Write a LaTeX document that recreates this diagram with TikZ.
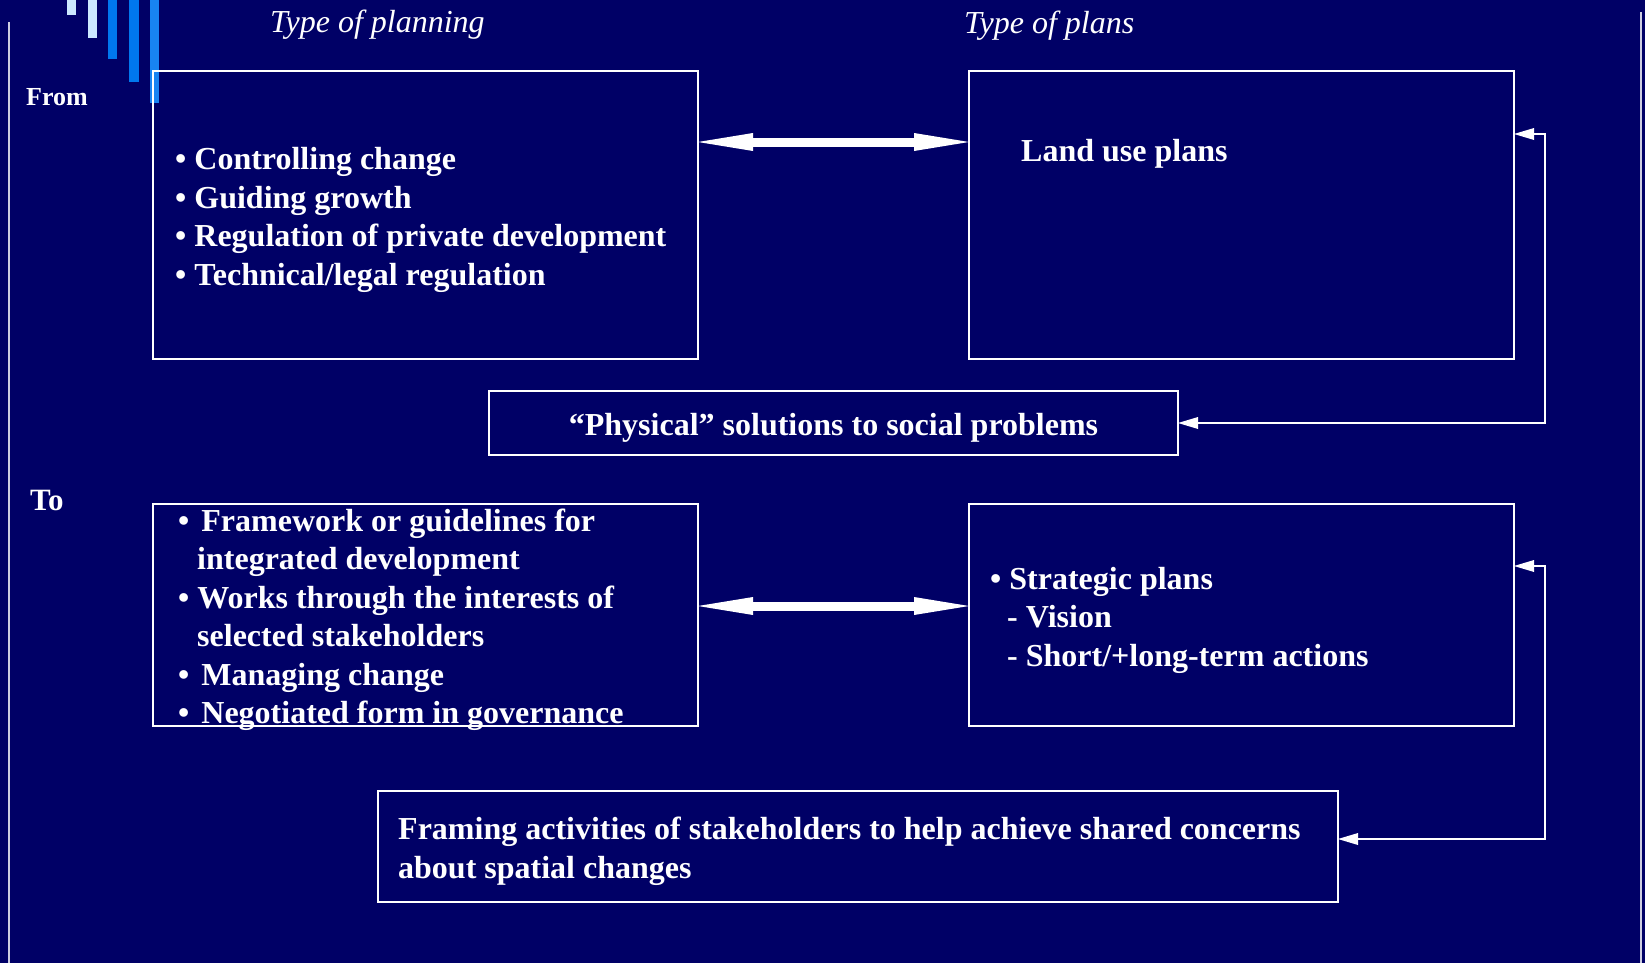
\documentclass[tikz,border=0pt]{standalone}
\usepackage{fontspec}
\setmainfont{Liberation Serif}
\usetikzlibrary{positioning,arrows.meta}
\definecolor{navy}{RGB}{0,0,102}
\definecolor{barlight}{RGB}{204,232,255}
\definecolor{barblue}{RGB}{0,119,238}
\definecolor{barsky}{RGB}{24,132,242}
\definecolor{rulegray}{RGB}{205,205,225}
\tikzset{
  box/.style={draw=white, line width=1.5pt, outer sep=0pt, inner sep=0pt},
  txt/.style={text=white, inner sep=0pt, yshift=-5pt, align=flush left, font=\bfseries\fontsize{32}{38.5}\selectfont},
  head/.style={text=white, inner sep=0pt, anchor=base west, font=\itshape\fontsize{32}{38}\selectfont},
  side/.style={text=white, inner sep=0pt, anchor=base west},
  twoway/.style={white, line width=9pt,
    {Triangle[length=55pt,width=18pt,line width=0pt]}-{Triangle[length=55pt,width=18pt,line width=0pt]}},
  back/.style={white, line width=1.5pt,
    {Triangle[length=20pt,width=12pt,line width=0pt]}-{Triangle[length=20pt,width=12pt,line width=0pt]}}
}

\begin{document}
\begin{tikzpicture}[x=1pt,y=-1pt,node distance=271pt]
        \fill[navy] (0,0) rectangle (1645,963);
        \useasboundingbox (0,0) rectangle (1645,963);
        \fill[barlight] (67,0) rectangle (76,15);
        \fill[barlight] (88,0) rectangle (97,38);
        \fill[barblue] (108,0) rectangle (117,59);
        \fill[barblue] (129,0) rectangle (139,82);
        \fill[barsky] (150,0) rectangle (159,103);
        \draw[rulegray, line width=2pt] (9,22) -- (9,963);
        \draw[rulegray, line width=2pt] (1641,12) -- (1641,963);
        \node(H1) [head] at (270,33) {Type of planning};
        \node(H2) [head] at (964,34) {Type of plans};
        \node(From) [side, font=\bfseries\fontsize{26}{30}\selectfont] at (26,106) {From};
        \node(To) [side, font=\bfseries\fontsize{31}{36}\selectfont] at (30,510) {To};
        \node(F1) [box, minimum width=545pt, minimum height=288pt] at (425.5,215) {};
        \node(F2) [box, minimum width=545pt, minimum height=288pt, right=of F1] {};
        \node(F3) [box, minimum width=689pt, minimum height=64pt] at (833.5,423) {};
        \node(T1) [box, minimum width=545pt, minimum height=222pt, below=145pt of F1] {};
        \node(T2) [box, minimum width=545pt, minimum height=222pt, right=of T1] {};
        \node(T3) [box, minimum width=960pt, minimum height=111pt] at (858,846.5) {};
        \node(F1t) [txt, right=22pt of F1.west]
            {\textbullet\ Controlling change\\ \textbullet\ Guiding growth\\
             \textbullet\ Regulation of private development\\ \textbullet\ Technical/legal regulation};
        \node(F2t) [side, font=\bfseries\fontsize{32}{38.5}\selectfont] at (1021,161) {Land use plans};
        \node(F3t) [txt, align=center] at (F3) {``Physical'' solutions to social problems};
        \node(T1t) [txt, right=25pt of T1.west]
            {\textbullet\hspace{12pt}Framework or guidelines for\\ \hspace*{19pt}integrated development\\
             \textbullet\ Works through the interests of\\ \hspace*{19pt}selected stakeholders\\
             \textbullet\hspace{12pt}Managing change\\ \textbullet\hspace{12pt}Negotiated form in governance};
        \node(T2t) [txt, right=21pt of T2.west]
            {\textbullet\ Strategic plans\\ \hspace*{17pt}- Vision\\ \hspace*{17pt}- Short/+long-term actions};
        \node(T3t) [txt, right=20pt of T3.west]
            {Framing activities of stakeholders to help achieve shared concerns\\ about spatial changes};
        \draw[twoway] ([yshift=73pt]F1.east) -- ([yshift=73pt]F2.west);
        \draw[twoway] ([yshift=9pt]T1.east) -- ([yshift=9pt]T2.west);
        \draw[back] ([yshift=81pt]F2.east) -- ++(31,0) |- (F3.east);
        \draw[back] ([yshift=49pt]T2.east) -- ++(31,0) |- ([yshift=7.5pt]T3.east);
    \end{tikzpicture}
\end{document}
